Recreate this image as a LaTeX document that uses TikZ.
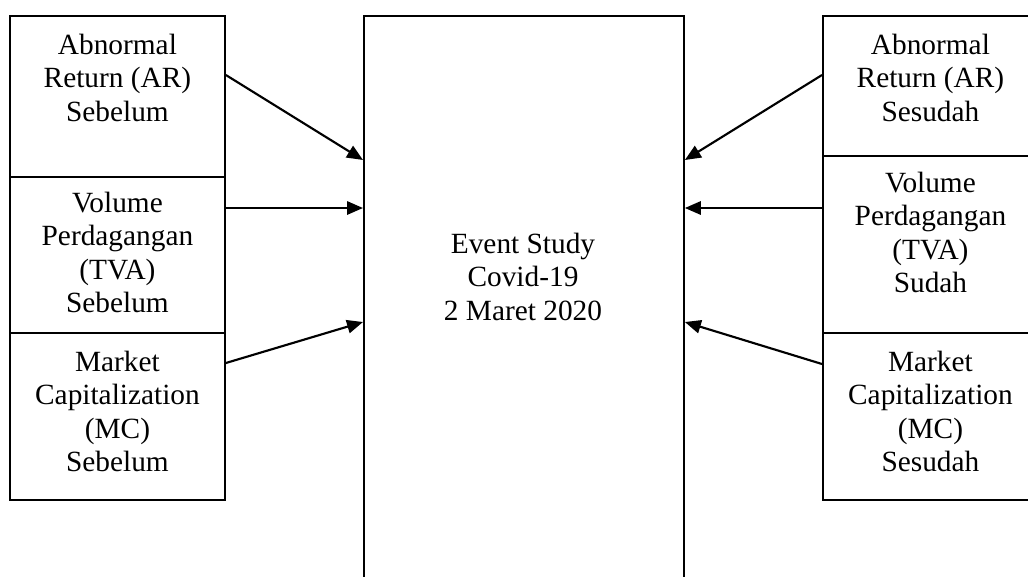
\documentclass[tikz,border=0pt]{standalone}
\usepackage{fontspec}
\setmainfont{Liberation Serif}
\usetikzlibrary{arrows.meta,calc}
\tikzset{
  x=0.75pt, y=-0.75pt,
  box/.style={draw, line width=1.4pt, anchor=north west, inner sep=0pt, minimum width=215*0.75pt},
  txt/.style={anchor=north, align=center, inner sep=0pt,
    font=\fontsize{22pt}{25pt}\selectfont},
  arr/.style={line width=1.6pt, -{Triangle[length=12pt, width=10pt]}}
}
\begin{document}
\begin{tikzpicture}
\useasboundingbox (0,0) rectangle (1028,576);
\clip (0,0) rectangle (1028,576);
\fill[white] (0,0) rectangle (1028,576);

% left column: before the event
\node[box, minimum height=161*0.75pt] (l1) at (9,15) {};
\node[box, minimum height=156*0.75pt] (l2) at (9,176) {};
\node[box, minimum height=167*0.75pt] (l3) at (9,332) {};
\node[txt] (t1) at ($(l1.north)+(0,19)$) {Abnormal\\Return (AR)\\Sebelum};
\node[txt] (t2) at ($(l2.north)+(0,16)$) {Volume\\Perdagangan\\(TVA)\\Sebelum};
\node[txt] (t3) at ($(l3.north)+(0,19)$) {Market\\Capitalization\\(MC)\\Sebelum};

% centre: the event
\node[draw, line width=1.4pt, anchor=north west, inner sep=0pt,
      minimum width=320*0.75pt, minimum height=600*0.75pt] (ev) at (363,15) {};
\node[txt] (te) at (523,233) {Event Study\\Covid-19\\2 Maret 2020};

% right column: after the event
\node[box, minimum height=140*0.75pt] (r1) at (822,15) {};
\node[box, minimum height=177*0.75pt] (r2) at (822,155) {};
\node[box, minimum height=167*0.75pt] (r3) at (822,332) {};
\node[txt] (u1) at ($(r1.north)+(0,19)$) {Abnormal\\Return (AR)\\Sesudah};
\node[txt] (u2) at ($(r2.north)+(0,17)$) {Volume\\Perdagangan\\(TVA)\\Sudah};
\node[txt] (u3) at ($(r3.north)+(0,19)$) {Market\\Capitalization\\(MC)\\Sesudah};

% connectors into the event box
\draw[arr] ($(l1.north east)+(0,60)$) -- ($(ev.north west)+(0,145)$);
\draw[arr] ($(l2.north east)+(0,32)$) -- ($(ev.north west)+(0,193)$);
\draw[arr] ($(l3.north east)+(0,31)$) -- ($(ev.north west)+(0,307)$);
\draw[arr] ($(r1.north west)+(0,60)$) -- ($(ev.north east)+(0,145)$);
\draw[arr] ($(r2.north west)+(0,53)$) -- ($(ev.north east)+(0,193)$);
\draw[arr] ($(r3.north west)+(0,32)$) -- ($(ev.north east)+(0,307)$);
\end{tikzpicture}
\end{document}
